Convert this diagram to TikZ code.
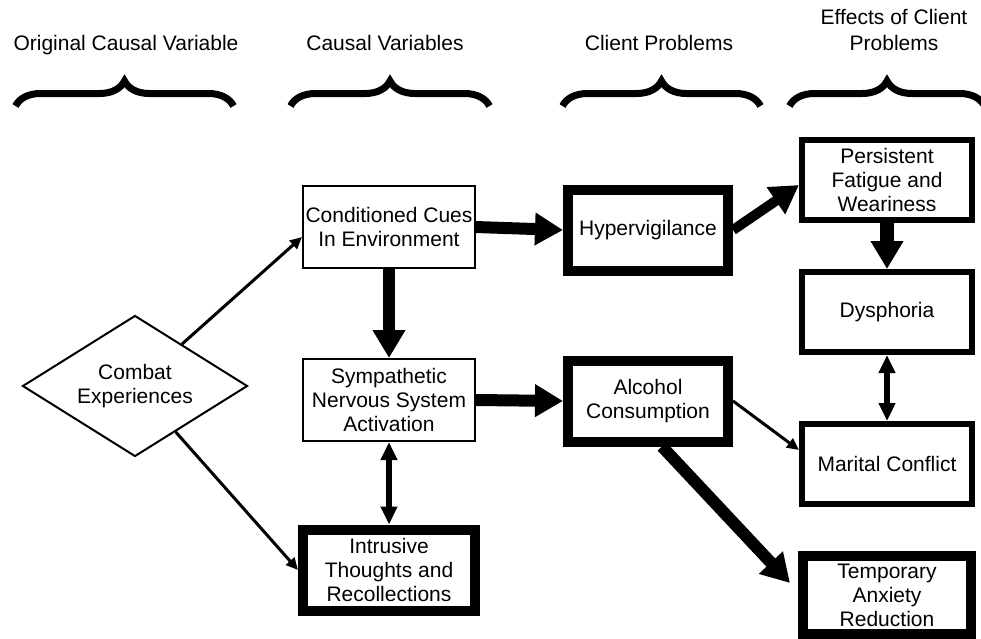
\documentclass[tikz,border=0pt]{standalone}
\usepackage{fontspec}
\setmainfont{Liberation Sans}
\usetikzlibrary{positioning,shapes.geometric,arrows.meta,decorations.pathreplacing}

\begin{document}
\begin{tikzpicture}[x=0.5pt, y=-0.5pt, node distance=86.5pt,
  every node/.style={font=\fontsize{10.5}{12}\selectfont, align=center, inner sep=0pt},
  plain box/.style={rectangle, draw, line width=1pt, minimum width=86pt, minimum height=41pt},
  mid box/.style={rectangle, draw, line width=3pt, minimum width=85pt, minimum height=40pt},
  heavy box/.style={rectangle, draw, line width=5pt, minimum width=86pt, minimum height=40.5pt},
  combat node/.style={diamond, draw, line width=1pt, aspect=1.6, minimum width=112.5pt, minimum height=70.5pt},
  heading/.style={font=\fontsize{10.5}{13}\selectfont},
  group brace/.style={line width=3.5pt, decorate, decoration={brace, amplitude=12.5pt}},
  thin arrow/.style={line width=1.5pt, -{Triangle[length=6pt, width=5.5pt]}},
  bold arrow/.style={line width=6pt, -{Triangle[length=14pt, width=15.5pt]}},
  twin arrow/.style={line width=3pt, {Triangle[length=9pt, width=8pt]}-{Triangle[length=9pt, width=8pt]}}]

  \useasboundingbox (0,0) rectangle (981,638);

  % column headings
  \node[heading, anchor=base] (hdorig) at (126,50) {Original Causal Variable};
  \node[heading, anchor=base] (hdcausal) at (385,50) {Causal Variables};
  \node[heading, anchor=base] (hdclient) at (659,50) {Client Problems};
  \node[heading, anchor=north] (hdeffects) at (894,9) {Effects of Client\\Problems};

  \draw[group brace] (15.5,106) -- (233.5,106);
  \draw[group brace] (290.5,106) -- (489.5,106);
  \draw[group brace] (562.5,106) -- (760.5,106);
  \draw[group brace] (789.5,106) -- (984.5,106);

  % nodes
  \node[combat node] (combat) at (135,386) {Combat\\Experiences};

  \node[plain box] (cues) at (389,227) {Conditioned Cues\\In Environment};
  \node[plain box] (sympathetic) [below of=cues] {Sympathetic\\Nervous System\\Activation};
  \node[heavy box] (intrusive) [below of=sympathetic, node distance=85pt] {Intrusive\\Thoughts and\\Recollections};

  \node[heavy box, minimum width=80pt] (hyper) at (648,230) {Hypervigilance};
  \node[heavy box, minimum width=80pt] (alcohol) [below of=hyper, node distance=85.5pt] {Alcohol\\Consumption};

  \node[mid box] (persistent) at (887,180) {Persistent\\Fatigue and\\Weariness};
  \node[mid box] (dysphoria) [below of=persistent, node distance=66pt] {Dysphoria};
  \node[mid box] (marital) [below of=dysphoria, node distance=76pt] {Marital Conflict};
  \node[heavy box, minimum width=84pt, minimum height=39pt] (temporary) [below of=marital, node distance=65.5pt] {Temporary\\Anxiety\\Reduction};

  % connectors
  \draw[thin arrow] (combat) -- ([yshift=-5pt]cues.west);
  \draw[thin arrow] (combat) -- (intrusive.west);

  \draw[bold arrow] (cues) -- (sympathetic);
  \draw[bold arrow] (cues.east) -- (hyper.west);
  \draw[bold arrow] (sympathetic.east) -- (alcohol.west);
  \draw[twin arrow] (sympathetic) -- (intrusive);

  \draw[bold arrow, line width=5pt] (hyper.east) -- ([yshift=-2.5pt]persistent.west);
  \draw[thin arrow] (alcohol.east) -- ([yshift=7pt]marital.west);
  \draw[bold arrow] ([xshift=7pt]alcohol.south) -- ([shift={(-4pt,6pt)}]temporary.west);

  \draw[bold arrow, line width=7pt] (persistent) -- (dysphoria);
  \draw[twin arrow] (dysphoria) -- (marital);
\end{tikzpicture}
\end{document}
